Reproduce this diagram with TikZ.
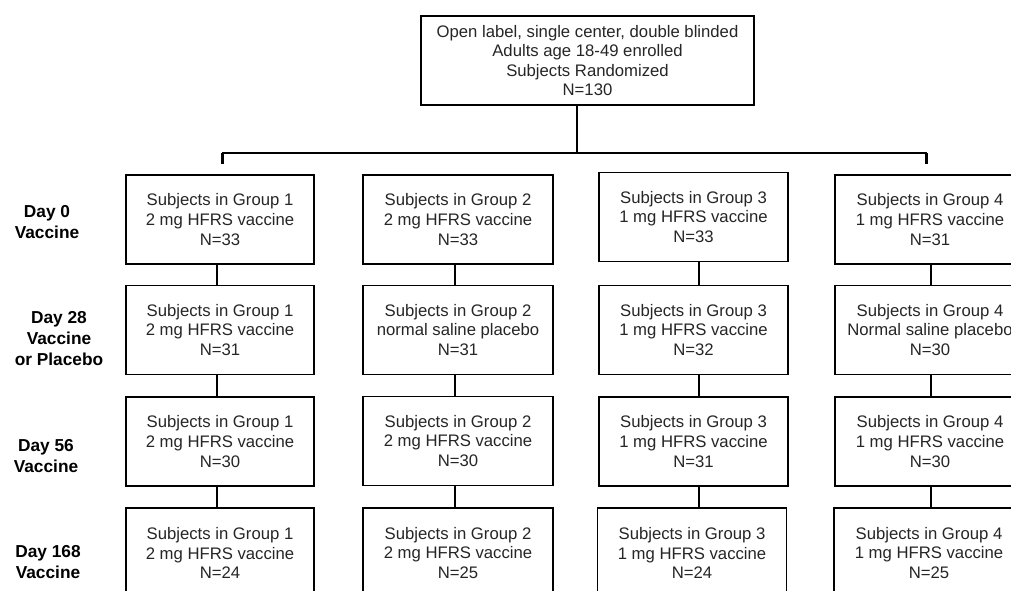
\documentclass[tikz,border=0pt]{standalone}
\usepackage{fontspec}
\setmainfont{Liberation Sans}
\begin{document}
\begin{tikzpicture}[x=1pt,y=-1pt,
  box/.style={draw, line width=1.8pt, minimum height=89pt, align=center, inner sep=0pt,
    text=black!85, font=\fontsize{16.7}{19.6}\selectfont},
  conn/.style={line width=1.5pt},
  tick/.style={line width=3pt},
  daylabel/.style={align=center, inner sep=0pt, font=\bfseries\fontsize{17.3}{21}\selectfont}]
\useasboundingbox (0,0) rectangle (1011,591);
\clip (0,0) rectangle (1011,591);
\fill[white] (0,0) rectangle (1011,591);

% top box
\node[box, minimum width=333pt, minimum height=89pt] (top) at (587.5,60.5)
  {Open label, single center, double blinded\\Adults age 18-49 enrolled\\Subjects Randomized\\N=130};

% branch coordinates
\coordinate (bj) at (577,153);
\coordinate (bl) at (222,153);
\coordinate (br) at (926.5,153);
\coordinate (tl) at (222,164);
\coordinate (tr) at (926.5,164);
\draw[conn] (top.south -| bj) -- (bj);
\draw[conn] (bl) -- (br);
\draw[tick] (bl) -- (tl);
\draw[tick] (br) -- (tr);

% connector x positions
\coordinate (cx1) at (217,0);
\coordinate (cx2) at (455,0);
\coordinate (cx3) at (699,0);
\coordinate (cx4) at (931,0);

% column 1
\node[box, minimum width=188pt] (a1) at (220,219.5) {Subjects in Group 1\\2 mg HFRS vaccine\\N=33};
\node[box, minimum width=188pt] (a2) at (220,330) {Subjects in Group 1\\2 mg HFRS vaccine\\N=31};
\node[box, minimum width=188pt] (a3) at (220,441.5) {Subjects in Group 1\\2 mg HFRS vaccine\\N=30};
\node[box, minimum width=188pt, minimum height=90pt] (a4) at (220,553) {Subjects in Group 1\\2 mg HFRS vaccine\\N=24};

% column 2
\node[box, minimum width=190pt] (b1) at (458,219.5) {Subjects in Group 2\\2 mg HFRS vaccine\\N=33};
\node[box, minimum width=190pt] (b2) at (458,330) {Subjects in Group 2\\normal saline placebo\\N=31};
\node[box, minimum width=190pt] (b3) at (458,441) {Subjects in Group 2\\2 mg HFRS vaccine\\N=30};
\node[box, minimum width=190pt, minimum height=90pt] (b4) at (458,553) {Subjects in Group 2\\2 mg HFRS vaccine\\N=25};

% column 3
\node[box, minimum width=189pt] (c1) at (693.5,217) {Subjects in Group 3\\1 mg HFRS vaccine\\N=33};
\node[box, minimum width=189pt] (c2) at (693.5,330) {Subjects in Group 3\\1 mg HFRS vaccine\\N=32};
\node[box, minimum width=189pt] (c3) at (693.5,441.5) {Subjects in Group 3\\1 mg HFRS vaccine\\N=31};
\node[box, minimum width=189pt, minimum height=90pt] (c4) at (692,553) {Subjects in Group 3\\1 mg HFRS vaccine\\N=24};

% column 4
\node[box, minimum width=190pt] (d1) at (930,219.5) {Subjects in Group 4\\1 mg HFRS vaccine\\N=31};
\node[box, minimum width=190pt] (d2) at (930,330) {Subjects in Group 4\\Normal saline placebo\\N=30};
\node[box, minimum width=190pt] (d3) at (930,441.5) {Subjects in Group 4\\1 mg HFRS vaccine\\N=30};
\node[box, minimum width=190pt, minimum height=90pt] (d4) at (929,553) {Subjects in Group 4\\1 mg HFRS vaccine\\N=25};

% vertical connectors
\foreach \c/\x in {a/cx1,b/cx2,c/cx3,d/cx4}{
  \draw[conn] (\c1.south -| \x) -- (\c2.north -| \x);
  \draw[conn] (\c2.south -| \x) -- (\c3.north -| \x);
  \draw[conn] (\c3.south -| \x) -- (\c4.north -| \x);
}

% day labels
\node[daylabel] (l1) at (47,222.5) {Day 0\\Vaccine};
\node[daylabel] (l2) at (59,339) {Day 28\\Vaccine\\or Placebo};
\node[daylabel] (l3) at (46,456.5) {Day 56\\Vaccine};
\node[daylabel] (l4) at (48,562.5) {Day 168\\Vaccine};
\end{tikzpicture}
\end{document}
